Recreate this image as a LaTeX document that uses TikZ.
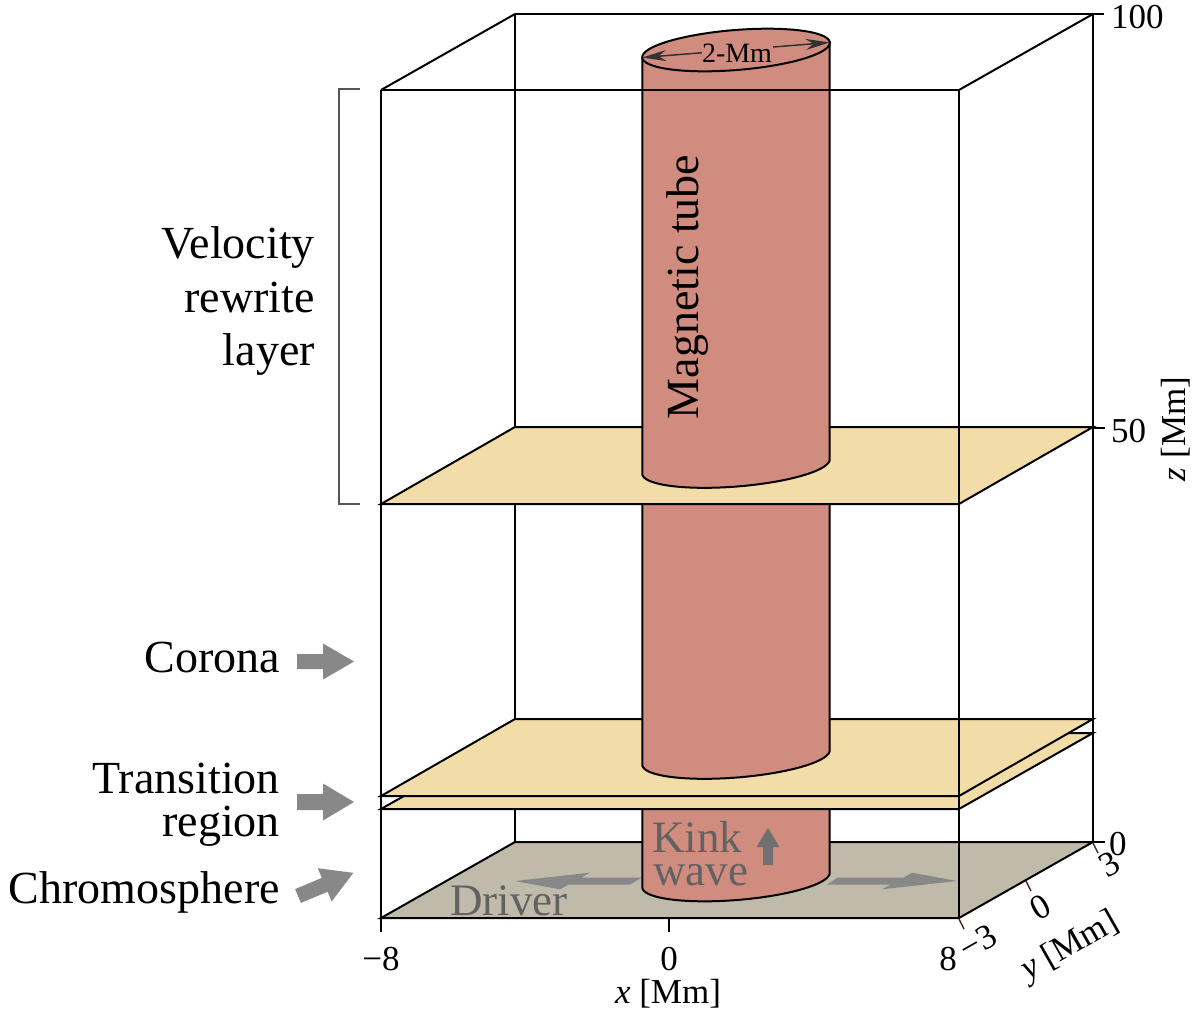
\documentclass[tikz,border=0pt]{standalone}
\usepackage{fontspec}
\setmainfont{Liberation Serif}
\usetikzlibrary{arrows.meta}
\definecolor{tubec}{RGB}{209,140,128}
\definecolor{planey}{RGB}{242,220,168}
\definecolor{planeg}{RGB}{192,186,170}
\definecolor{arrg}{RGB}{136,136,136}
\definecolor{kinkg}{RGB}{112,112,112}
\definecolor{txtg}{RGB}{98,98,98}
\definecolor{tickr}{RGB}{85,35,35}
\definecolor{brackc}{RGB}{85,85,85}
\definecolor{dimc}{RGB}{50,50,50}
\tikzset{
  edgest/.style={line width=2pt, black},
  planest/.style={line width=2pt, draw=black},
  tubest/.style={line width=2pt, draw=black, fill=tubec},
  lab/.style={font=\fontsize{46}{55}\selectfont, inner sep=0pt},
  tk/.style={font=\fontsize{35}{42}\selectfont, inner sep=0pt},
  grtxt/.style={font=\fontsize{45}{54}\selectfont, inner sep=0pt, text=txtg},
}
\newcommand{\tubeside}[2]{%
  \filldraw[tubest] (642.3,{#1+7.54}) -- (642.3,{#2+7.54}) -- plot[domain=180:360,samples=90,variable=\t] ({736+93.7*cos(\t)-1.6*sin(\t)},{#2-7.54*cos(\t)-19.94*sin(\t)}) -- (829.7,{#1-7.54}) -- cycle;}
\newcommand{\blockarr}[8]{%
  \fill[#8, shift={(#1,#2)}, rotate=#3] (0,-#6) -- ({#4-#5},-#6) -- ({#4-#5},-#7) -- (#4,0) -- ({#4-#5},#7) -- ({#4-#5},#6) -- (0,#6) -- cycle;}
\begin{document}
\begin{tikzpicture}[x=1pt,y=-1pt]
\useasboundingbox (0,0) rectangle (1200,1015);
% back edges of the box
\draw[edgest] (515,14) -- (515,842);
\draw[edgest] (1093,14) -- (1093,842);
\draw[edgest] (515,14) -- (1104,14);
\draw[edgest] (381,90) -- (515,14);
\draw[edgest] (959,90) -- (1093,14);
% chromosphere plane
\filldraw[planest, fill=planeg] (381,918) -- (959,918) -- (1093,842) -- (515,842) -- cycle;
% driver arrows
\fill[arrg] (838,877.5) -- (903.3,877.5) -- (912,872.7) -- (957,881) -- (882,889.3) -- (890.7,884.5) -- (827,884.5) -- cycle;
\fill[arrg] (515,881) -- (590,872.7) -- (581.3,877.5) -- (642,877.5) -- (630,884.5) -- (568.7,884.5) -- (560,889.3) -- cycle;
\node[grtxt, anchor=base west] (driver) at (450,915) {Driver};
% bottom tube segment
\tubeside{771}{880}
\node[grtxt, anchor=base west] (kink) at (652,852) {Kink};
\node[grtxt, anchor=base west] (wave) at (653,885) {wave};
\blockarr{768}{865}{90}{37}{19}{5}{11.5}{kinkg}
% transition region planes
\filldraw[planest, fill=planey] (381,809) -- (959,809) -- (1093,733) -- (515,733) -- cycle;
\filldraw[planest, fill=planey] (381,796) -- (959,796) -- (1093,719) -- (515,719) -- cycle;
% middle tube segment
\tubeside{466.5}{757.5}
% upper plane
\filldraw[planest, fill=planey] (381,504) -- (959,504) -- (1093,427) -- (515,427) -- cycle;
% upper tube segment
\tubeside{50}{466.5}
\filldraw[tubest] plot[domain=0:360,samples=160,variable=\t] ({736+93.7*cos(\t)-1.6*sin(\t)},{50-7.54*cos(\t)-19.94*sin(\t)}) -- cycle;
\coordinate (dl) at (642.3,57.54);
\coordinate (dr) at (829.7,42.46);
\draw[line width=1.5pt, dimc, {Stealth[length=24pt,width=11pt]}-{Stealth[length=24pt,width=11pt]}] (dl) -- (dr);
\node[font=\fontsize{28}{34}\selectfont, fill=tubec, inner sep=0.5pt, anchor=base] (dimtxt) at (737,62) {2-Mm};
\node[lab, rotate=90, anchor=base] (mag) at (698,287) {Magnetic tube};
% front edges
\draw[edgest] (381,90) -- (381,918);
\draw[edgest] (959,90) -- (959,918);
\draw[edgest] (381,90) -- (959,90);
% z ticks
\draw[edgest] (1093,428) -- (1105,428);
\draw[edgest] (1093,842) -- (1105,842);
\node[tk, anchor=base west] (z100) at (1111,28) {100};
\node[tk, anchor=base west] (z50) at (1111,442) {50};
\node[tk, anchor=base west] (z0) at (1109,855) {0};
\node[tk, rotate=90] (zlab) at (1176,429) {\textit{z} [Mm]};
% x ticks
\draw[edgest] (381,918) -- (381,932);
\draw[edgest] (669,918) -- (669,932);
\node[tk, anchor=base] (xm8) at (381,970) {−8};
\node[tk, anchor=base] (x0) at (669,970) {0};
\node[tk, anchor=base] (x8) at (948,970) {8};
\node[tk, anchor=base] (xlab) at (668,1003) {\textit{x} [Mm]};
% y ticks
\draw[line width=1.5pt, tickr] (959,919) -- (964,929);
\draw[line width=1.5pt, tickr] (1026,881) -- (1031,891);
\draw[line width=1.5pt, tickr] (1093,843) -- (1098,853);
\node[tk, rotate=29.6] (ym3) at (978,942) {−3};
\node[tk, rotate=29.6] (y0) at (1040,907) {0};
\node[tk, rotate=29.6] (y3) at (1109,864) {3};
\node[tk, rotate=29.6] (ylab) at (1070,947) {\textit{y} [Mm]};
% bracket and left labels
\draw[line width=2pt, brackc] (360,89) -- (339,89) -- (339,504) -- (360,504);
\node[lab, anchor=base east] (vel1) at (315,258) {Velocity};
\node[lab, anchor=base east] (vel2) at (315,312) {rewrite};
\node[lab, anchor=base east] (vel3) at (315,365) {layer};
\node[lab, anchor=base east] (cor) at (280,672) {Corona};
\node[lab, anchor=base east] (tr1) at (280,793) {Transition};
\node[lab, anchor=base east] (tr2) at (280,836) {region};
\node[lab, anchor=base east] (chr) at (280,903) {Chromosphere};
\blockarr{297}{661.5}{0}{57}{31}{7.5}{18}{arrg}
\blockarr{297}{802}{0}{57}{31}{8}{18.5}{arrg}
\blockarr{298}{896}{22.7}{60}{31}{7.5}{18}{arrg}
\end{tikzpicture}
\end{document}
